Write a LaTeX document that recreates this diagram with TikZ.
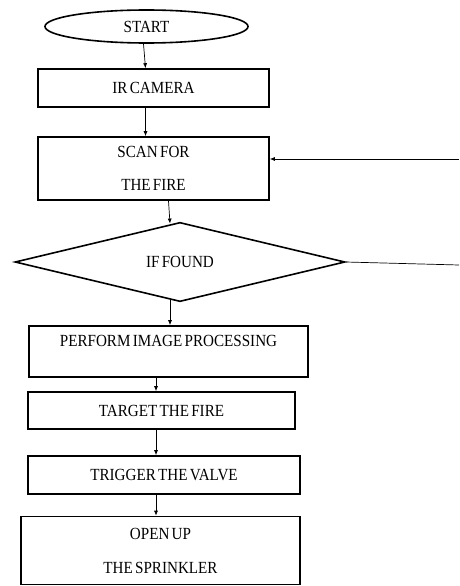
\documentclass[tikz,border=0pt]{standalone}
\usepackage{fontspec}
\setmainfont{Liberation Serif}[FakeStretch=0.89,WordSpace=0.6]
\usetikzlibrary{shapes.geometric,positioning,arrows.meta}

\begin{document}
\begin{tikzpicture}[x=1pt, y=-1pt, >={Latex[length=5pt,width=4pt]},
	font=\fontsize{17}{20}\selectfont,
	mybox/.style={rectangle,draw=black,line width=1.6pt,inner sep=0pt,align=center},
	myterm/.style={ellipse,draw=black,line width=1.6pt,inner sep=0pt},
	mydec/.style={diamond,draw=black,line width=1.6pt,inner sep=0pt},
	myline/.style={line width=0.7pt}]
	\useasboundingbox (0,0) rectangle (459,586);
	\node[myterm,minimum width=203pt,minimum height=33pt] (Start) at (146.5,26.5) {START};
	\node[mybox,minimum width=231pt,minimum height=38pt] (IRCam) at (153.5,88) {IR CAMERA};
	\node[mybox,minimum width=231pt,minimum height=63pt] (Scan) at (153.5,168.5) {SCAN FOR\\[13pt]THE FIRE};
	\node[mydec,minimum width=330pt,minimum height=71pt] (IfFound) at (180,262) {IF FOUND};
	\node[mybox,minimum width=279pt,minimum height=51pt] (ImgProc) at (168.5,351.5) {PERFORM IMAGE PROCESSING\\[1pt]\mbox{}};
	\node[mybox,minimum width=267pt,minimum height=37pt] (Target) at (161.5,410.5) {TARGET THE FIRE};
	\node[mybox,minimum width=272pt,minimum height=38pt] (Trigger) at (164,475) {TRIGGER THE VALVE};
	\node[mybox,minimum width=279pt,minimum height=68pt] (Open) at (160.5,550.5) {OPEN UP\\[14pt]THE SPRINKLER};
	\coordinate (LoopIn) at (459,159);
	\coordinate (LoopOut) at (459,265);
	\path[->,myline] ([xshift=-3pt]Start.south) edge ([xshift=-8pt]IRCam.north);
	\path[->,myline] ([xshift=-8pt]IRCam.south) edge ([xshift=-8pt]Scan.north);
	\path[->,myline] ([xshift=15pt]Scan.south) edge ([xshift=-10pt,yshift=-2pt]IfFound.north);
	\path[->,myline] ([xshift=-10pt,yshift=2pt]IfFound.south) edge ([xshift=1.5pt]ImgProc.north);
	\path[->,myline] ([xshift=-12.5pt]ImgProc.south) edge ([xshift=-5.5pt]Target.north);
	\path[->,myline] ([xshift=-5.5pt]Target.south) edge ([xshift=-8pt]Trigger.north);
	\path[->,myline] ([xshift=-8pt]Trigger.south) edge ([xshift=-4.5pt]Open.north);
	\path[->,myline] (LoopIn) edge (Scan.east |- LoopIn);
	\draw[myline] (IfFound.east) -- (LoopOut);
\end{tikzpicture}
\end{document}
